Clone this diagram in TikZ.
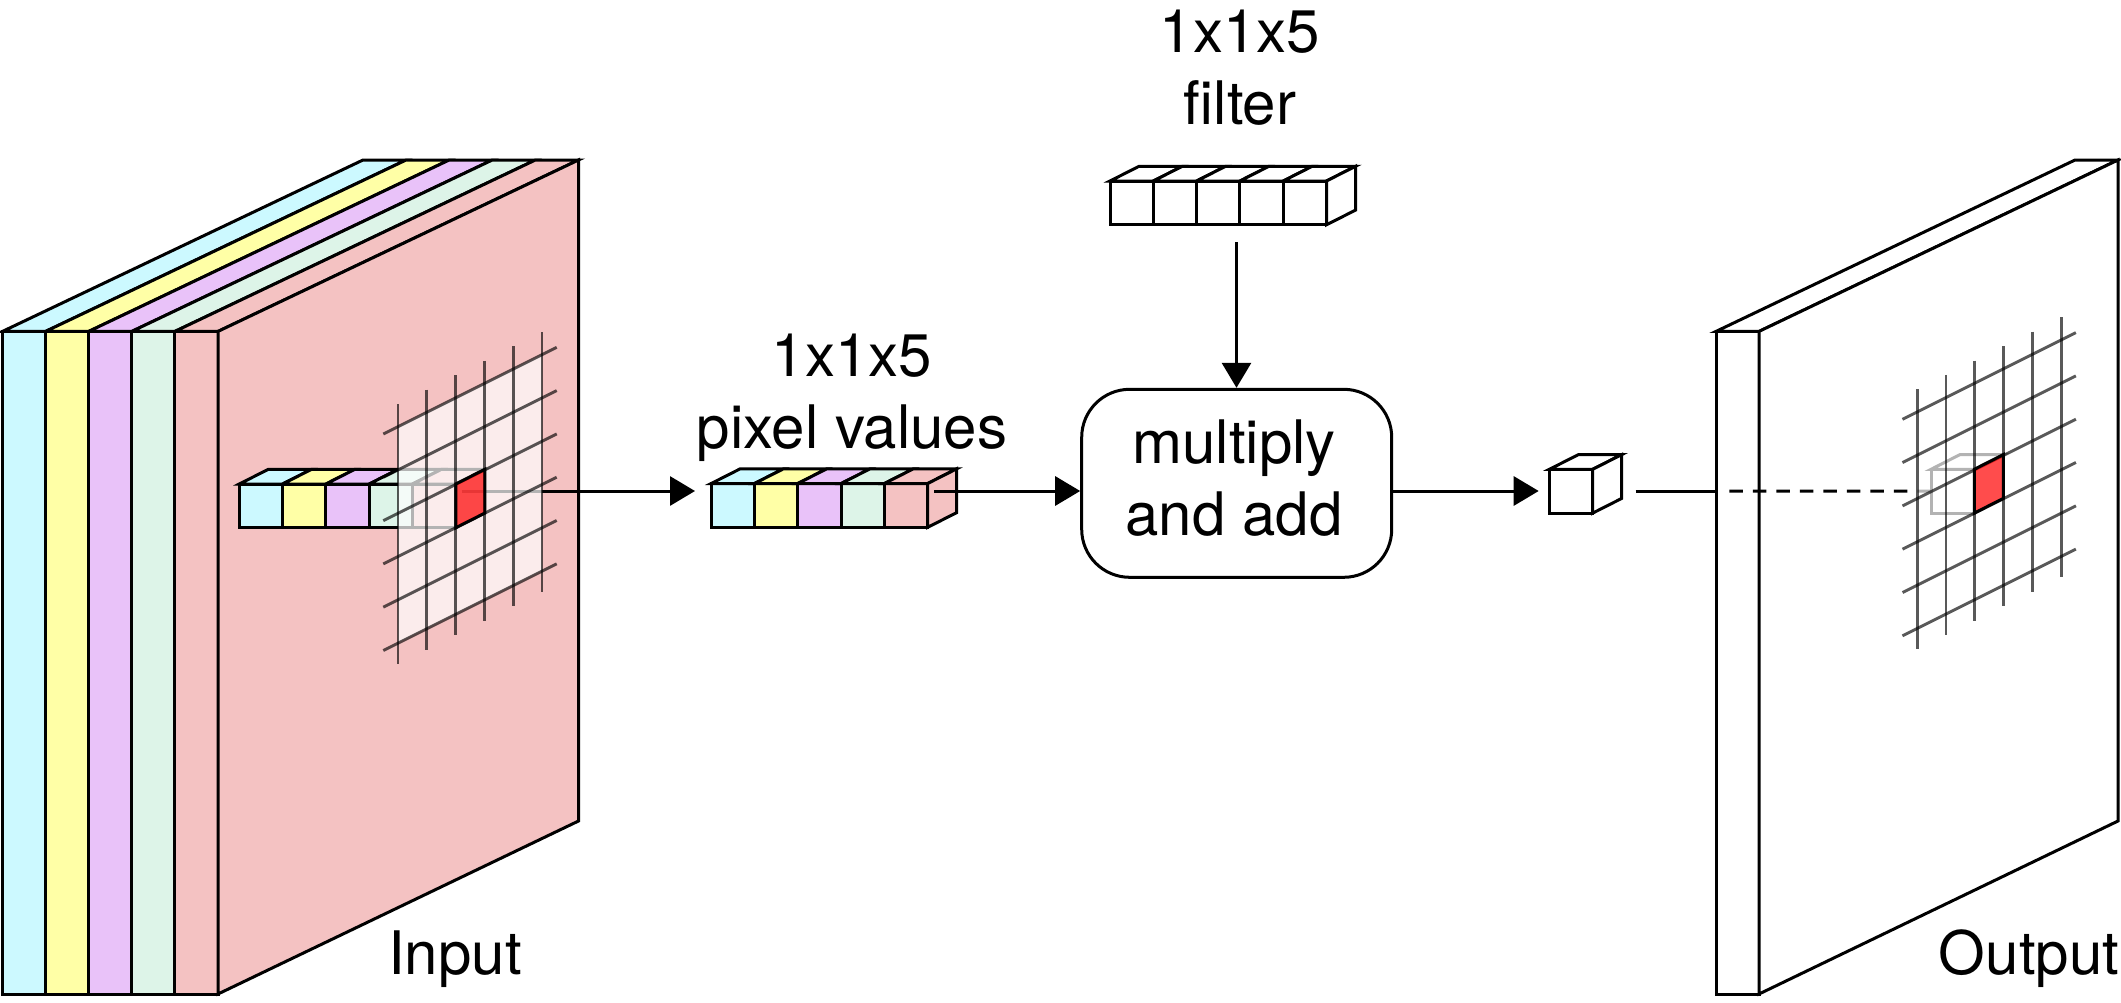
\documentclass[tikz,border=0pt]{standalone}
\usepackage{fontspec}
\setmainfont{TeX Gyre Heros}
\usetikzlibrary{arrows.meta}
\definecolor{chancyan}{HTML}{CCF9FF}
\definecolor{chanyellow}{HTML}{FFFFA6}
\definecolor{chanpurple}{HTML}{E9C2F9}
\definecolor{changreen}{HTML}{DDF4E8}
\definecolor{chanpink}{HTML}{F4C2C2}
\tikzset{
cell/.style={draw, rectangle, line width=3pt, minimum width=43.3pt,
	minimum height=43.8pt, inner sep=0pt, outer sep=0pt, anchor=north west},
edge/.style={draw, line width=3pt, line join=miter},
conn/.style={line width=3pt, -{Triangle[length=25pt,width=29pt]}},
plain/.style={line width=3pt},
gridline/.style={line width=2.9pt, black, draw opacity=.65},
hot/.style={edge, fill=red, fill opacity=.7},
lbl/.style={font=\fontsize{60}{72}\selectfont, align=center, inner sep=0pt}
}
% row of cells with their top faces: name, x, y, colours
\newcommand{\cellrow}[4]{
	\foreach \i/\col [count=\n from 0] in {#4} {
		\node[cell, fill=\col] (#1\i) at ({#2+43.3*\n},#3) {};
		\path[edge, fill=\col] (#1\i.north west) -- ++(29,-14.7) -- ++(43.3,0) -- ++(-29,14.7) -- cycle;
	}
}
\newcommand{\sideface}[3][edge]{
	\path[#1, fill=#3] (#2.north east) -- ++(29,-14.7) -- ++(0,43.8) -- ++(-29,14.7) -- cycle;
}
% veil and lines of the 6x6 grid
\newcommand{\gridpatch}[2]{
	\begin{scope}[shift={(#1,#2)}]
	\fill[white, opacity=.7] (398,426.7) -- (542,354.7) -- (542,570.6) -- (398,642.6) -- cycle;
	\foreach \k in {0,...,5} {
		\draw[gridline] ({398+28.8*\k},{404-14.4*\k}) -- ++(0,260);
		\draw[gridline] (383.3,{434+43.3*\k}) -- ++(173.4,-86.7);
	}
	\end{scope}
}

\begin{document}
\begin{tikzpicture}[x=1pt, y=-1pt]
	\useasboundingbox (0,0) rectangle (2121,1002);

	% input stack
	\foreach \i/\col in {0/chancyan, 1/chanyellow, 2/chanpurple, 3/changreen, 4/chanpink} {
		\path[edge, fill=\col] ({2.5+43.1*\i},331.4) rectangle ({2.5+43.1*(\i+1)},994);
		\path[edge, fill=\col] ({2.5+43.1*\i},331.4) -- ++(360.5,-171.4) -- ++(43.1,0) -- ++(-360.5,171.4) -- cycle;
	}
	\path[edge, fill=chanpink] (218,331.4) -- (578.5,160) -- (578.5,821) -- (218,994) -- cycle;

	\cellrow{in}{239.3}{484}{1/chancyan, 2/chanyellow, 3/chanpurple, 4/changreen, 5/chanpink}
	\coordinate (inout) at (461.5,491);
	\coordinate (pixin) at (695,491);
	\draw[conn] (inout) -- (pixin);
	\gridpatch{0}{0}
	\sideface[hot]{in5}{red}

	% pixel values
	\cellrow{pix}{711.2}{483.5}{1/chancyan, 2/chanyellow, 3/chanpurple, 4/changreen, 5/chanpink}
	\sideface{pix5}{chanpink}
	\node[lbl] (pixlabel) at (852,398) {1x1x5\\pixel values};

	% filter
	\cellrow{f}{1110}{181}{1/white, 2/white, 3/white, 4/white, 5/white}
	\sideface{f5}{white}
	\node[lbl] (flabel) at (1240,67.5) {1x1x5\\filter};

	\node[draw, line width=3pt, rounded corners=48pt, fill=white, minimum width=310pt,
		minimum height=188pt] (mult) at (1236.7,483.3) {};
	\node[lbl] (multlabel) at (1234,478) {multiply\\and add};

	\coordinate (pixout) at (934,491);
	\coordinate (fout) at (1236.5,242);
	\draw[conn] (pixout) -- (mult.west |- pixout);
	\draw[conn] (fout) -- (fout |- mult.north);

	% single value
	\cellrow{cu}{1549.4}{469.3}{1/white}
	\sideface{cu1}{white}
	\coordinate (cuin) at (1538.7,491);
	\draw[conn] (mult.east |- cuin) -- (cuin);

	% output slab
	\path[edge, fill=white] (1716,331.4) rectangle (1759,994);
	\path[edge, fill=white] (1716,331.4) -- ++(359,-171.4) -- ++(43,0) -- ++(-359,171.4) -- cycle;
	\path[edge, fill=white] (1759,331.4) -- (2118,160) -- (2118,821) -- (1759,994) -- cycle;

	\cellrow{gh}{1931}{469.3}{1/white}
	\coordinate (cuout) at (1635.6,491);
	\coordinate (slabin) at (1716,491);
	\coordinate (dashin) at (1729.3,491);
	\draw[plain] (cuout) -- (slabin);
	\draw[plain, dash pattern=on 13.5pt off 10pt] (dashin) -- (gh1.west);
	\gridpatch{1519.2}{-14.7}
	\sideface[hot]{gh1}{red}

	\node[lbl, anchor=base] (inlabel) at (455,974) {Input};
	\node[lbl, anchor=base] (outlabel) at (2029,974) {Output};
\end{tikzpicture}
\end{document}
